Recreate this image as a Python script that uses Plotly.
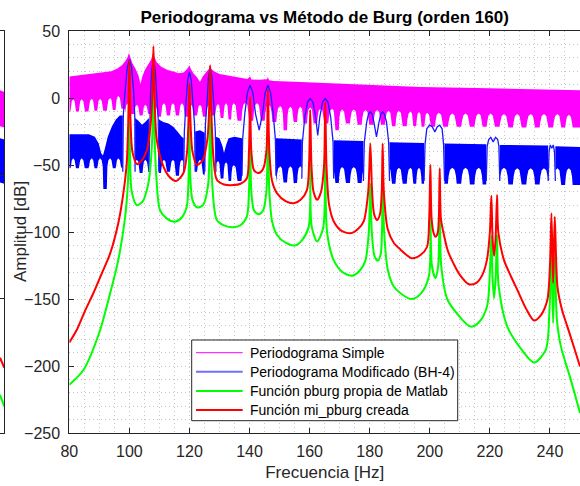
import numpy as np
import plotly.graph_objects as go

# ---------------- data ----------------
# Periodograma simple (magenta): upper envelope
mag_up_f = [80, 85, 90, 94, 96, 97.5, 98.6, 99.4, 99.85, 100.3, 101, 102, 103, 103.7, 104.3, 105.2, 106.3, 107.2, 107.8, 108.3,
            109, 110.5, 112.5, 114.5, 116.5, 118, 119, 119.6, 120, 120.5, 121.3, 122.5, 123.5, 124.4, 125.5, 126.4, 126.9, 127.5, 128.5, 130,
            134.7, 139.3, 139.9, 140.2, 140.6, 143, 145.8, 146.1, 146.5, 148, 155, 160, 170, 180, 197, 220, 250]
mag_up_db = [16, 17.5, 18.5, 20, 22, 24.5, 27.5, 30.5, 33.6, 30, 26, 22, 17, 10.5, 16, 21, 25, 28.5, 33, 31,
             27, 23.5, 21, 19.5, 18.5, 19, 21, 23, 24.4, 21.5, 18.5, 15.5, 12, 16, 19.5, 21.5, 23, 21, 19.5, 18,
             16, 14.2, 15.5, 16.2, 13.8, 13.6, 14, 15.7, 13.2, 12.7, 12.2, 11.8, 10.8, 10, 8.3, 7.2, 5.8]

# null pattern ("castles") on the lower edge of both periodograms
castle_f = [81.3, 84.1, 87.5, 90.2, 93.6, 96.3, 99.5, 102.5, 105.3, 108.5, 111.5, 114.5, 117.5, 120.5, 123.5, 126.5, 129.5, 132.2,
            134.7, 138.6, 142.5, 146.3, 150.2, 153.6, 156.9, 160.2, 163.6, 167.5, 170.8, 174.7, 178.6, 182.5, 186.3, 189.7, 193.6, 196.4,
            199.1, 203.0, 207.5, 211.9, 216.3, 220.2, 224.7, 229.1, 233.6, 238.0, 242.5, 246.3]
mag_castle_top = [-1, -1, -0.5, -0.5, 0, 1.5, -4, -5, -5, -6, -4, -4, -4, -5, -5, -5, -4.5, -4,
                  -4, -3.5, -4, -5, -6, -6.5, -6.5, -7, -8, -8, -8.5, -8.5, -9, -9, -9.5, -9.5, -10, -10.5,
                  -11, -11, -11.5, -11.5, -11.5, -11.5, -12, -12, -12, -12, -12, -12.5]
mag_castle_dip = [-10, -10, -9.5, -9.5, -9, -8, -12, -13, -12, -14, -13, -13, -14, -13, -14, -13, -15, -16,
                  -17, -17, -17, -18, -24, -18, -19, -19, -19, -24, -19, -20, -20, -20, -21, -21, -21, -21.5,
                  -21.5, -21.5, -21.5, -21.5, -21.5, -21.5, -22, -22, -22, -22, -22, -22]

# Periodograma modificado BH-4 (blue): noise-band upper edge
blue_up_f = [80, 86.5, 88.5, 89.8, 90.6, 91.2, 91.8, 92.8, 94.2, 95.5, 96.8, 97.8, 101.9, 103, 104.2, 105.3, 106.5, 109.8, 111.3, 113,
             114.6, 116, 117.4, 118.1, 121.9, 123.5, 125.1, 128.8, 130, 131, 131.5, 132.2, 133, 135, 137.5, 148.8, 152, 157.4, 168, 177.9,
             186.6, 198.1, 204.9, 218.8, 223.3, 239.4, 241.8, 250]
blue_up_db = [-27, -27, -29, -34, -41, -43, -38, -29, -21, -16, -13, -13, -15, -17, -20, -18, -15, -16, -18, -19,
              -21.5, -25, -29, -30, -25, -24, -26, -29, -30, -36, -41, -35, -30, -29, -30, -30, -30.5, -31, -31.5, -32,
              -33, -33.5, -34, -34.5, -35, -35.5, -36, -36.5]
blue_castle_top = [-45, -45, -45, -45, -45, -45, -46, -46, -46, -46, -46, -46, -46, -46, -46, -46, -47, -48,
                   -50, -51, -51, -51, -51, -51, -51, -51, -51, -51.5, -51.5, -51.5, -51.5, -52, -52, -52, -52, -52,
                   -52, -52, -52, -52, -52, -52, -52, -52.5, -52.5, -52.5, -52.5, -52.5]
blue_castle_dip = [-52.5, -52.5, -52.5, -68, -52.5, -52, -55, -56, -55, -56, -55, -58, -56, -55, -57, -56, -60, -62,
                   -62, -63, -62, -63, -63, -63.5, -63, -63.5, -63.5, -63.5, -63.5, -63.5, -64, -64, -64, -64, -64, -64,
                   -64, -64, -64, -64.5, -64.5, -64.5, -64.5, -64.5, -64.5, -65, -65, -65]
# frequency spans where the blue noise band exists (main lobes in between)
blue_band_spans = [(80, 97.8), (101.9, 106.5), (109.8, 118.1), (121.9, 125.1), (128.8, 137.5), (148.8, 157.4),
                   (168.0, 177.9), (186.6, 198.1), (204.9, 218.8), (223.3, 239.4), (241.8, 250)]
# blue main lobes
lobes_f = [
    [97.8, 98.0, 98.6, 99.3, 100.0, 100.7, 101.4, 101.8, 101.9],
    [106.5, 106.7, 107.0, 107.4, 108.0, 108.6, 109.1, 109.6, 109.8],
    [118.1, 118.3, 118.8, 119.4, 120.0, 120.6, 121.2, 121.7, 121.9],
    [125.1, 125.3, 125.8, 126.3, 126.9, 127.5, 128.1, 128.6, 128.8],
    [137.5, 137.7, 138.4, 139.3, 140.2, 141.1, 142.0, 143.2, 144.3, 145.2, 146.1, 147.0, 147.9, 148.6, 148.8],
    [157.4, 157.6, 158.4, 159.3, 160.2, 161.1, 162.0, 162.7, 163.4, 164.3, 165.2, 166.1, 167.0, 167.8, 168.0],
    [177.9, 178.2, 179.0, 179.6, 180.2, 180.8, 181.4, 182.25, 183.1, 183.7, 184.3, 184.9, 185.6, 186.3, 186.6],
    [198.1, 198.4, 199.0, 199.9, 200.8, 201.7, 202.5, 203.3, 204.1, 204.6, 204.9],
    [218.8, 219.1, 219.6, 220.3, 221.1, 221.9, 222.6, 223.0, 223.3],
    [239.4, 239.7, 240.1, 240.6, 241.1, 241.5, 241.8],
]
lobes_db = [
    [-55, -12, 6, 23, 28.7, 23, 6, -14, -55],
    [-55, -15, 0, 21, 28.4, 21, 0, -16, -55],
    [-55, -25, -5, 13, 19.5, 13, -5, -20, -55],
    [-55, -20, -5, 15, 23, 15, -5, -25, -55],
    [-58, -31, -12, 4, 9.5, 4, -12, -24, -12, 4, 9.5, 4, -12, -31, -58],
    [-60, -33, -14, -3, -0.4, -3, -14, -28, -14, -3, -0.4, -3, -14, -33, -60],
    [-62, -33, -18, -12, -10.3, -12, -18, -29, -18, -12, -10.3, -12, -18, -33, -62],
    [-62, -35, -23, -20.3, -21.5, -25.3, -21.5, -20.3, -23, -35, -62],
    [-62, -36, -31, -29.4, -32.7, -29.4, -31, -36, -62],
    [-62, -40, -35, -37.5, -35, -40, -62],
]

# Funcion pburg propia de Matlab (green)
green_f = [80, 84.7, 90, 93.6, 96.3, 98.6, 99.5, 99.8, 100, 100.2, 100.8, 102.5, 104.5, 106.2, 106.9, 107.6, 108, 108.4, 109, 110.2,
           112.5, 115.2, 117.5, 119.1, 119.7, 120, 120.3, 121, 122.5, 124.5, 126.2, 126.9, 127.6, 129.1, 131.5, 134.7, 137, 139.1, 139.8, 140.2,
           140.6, 141.5, 143, 144.5, 145.6, 146.1, 146.6, 147.5, 149.1, 152, 155.2, 157.5, 159.7, 160.2, 160.7, 162.5, 164.5, 165.2, 165.8, 168,
           171, 174.2, 177, 178.6, 179.7, 180.2, 180.7, 181.6, 182.7, 183.7, 184.3, 184.8, 186, 188, 191, 194.1, 197, 199.7, 200.2, 200.7,
           201.9, 202.8, 203.3, 203.8, 205.8, 209.1, 213.6, 216.5, 219.1, 220, 220.5, 220.9, 221.4, 221.9, 222.4, 222.9, 225.8, 230.2, 234.7, 238.6,
           239.8, 240.5, 241.05, 241.6, 242.3, 243.6, 246.9, 250]
green_db = [-214, -203, -175, -145.7, -121, -88.6, -63.7, -40, -2, -40, -70, -80, -77, -65, -54, -30, 8, -30, -60, -83.6,
            -90, -92.3, -89, -81, -60, -19, -60, -76, -81.6, -80, -65, -6, -65, -91, -95, -96.5, -95, -88.6, -70, -29,
            -70, -84, -86.8, -84, -70, -24, -70, -92, -102, -108, -110, -106, -96, -39, -96, -107, -97, -33, -100, -121,
            -130, -132.6, -128, -121, -100, -64, -100, -118, -121.4, -116, -64, -100, -128, -140.7, -147, -150, -146, -133, -80, -125,
            -134.5, -125, -82, -125, -150, -161, -170.6, -167, -155, -130, -103, -135, -149.4, -135, -102, -140, -170.6, -186.7, -197.4, -188,
            -160, -116, -168, -118, -165, -185, -210, -235]

# Funcion mi_pburg creada (red)
red_f = [80, 82.5, 85.2, 88, 90.8, 93.6, 96.3, 98, 99.1, 99.6, 100, 100.4, 101, 102.5, 104, 105.8, 107.1, 107.6, 108, 108.4,
         109.1, 111.3, 113, 115.5, 118, 119.2, 119.7, 120, 120.3, 121, 122.5, 124.5, 126, 126.6, 126.9, 127.2, 128, 129.1, 131.5, 134.7,
         137, 139.1, 139.8, 140.2, 140.6, 141.5, 143, 144.5, 145.6, 146.1, 146.6, 147.5, 149.1, 152, 154.7, 157, 159.1, 159.8, 160.2, 160.6,
         161.3, 162.5, 163.8, 164.8, 165.2, 165.6, 166.5, 168, 170.5, 173.6, 176, 178, 179.5, 180.2, 180.8, 181.5, 182.5, 183.4, 184, 184.3,
         184.7, 186, 188, 190.2, 194, 197, 199.1, 199.8, 200.2, 200.6, 201.3, 201.9, 202.6, 203, 203.3, 203.7, 204.5, 206, 208, 210,
         213, 215.5, 217.5, 219, 220, 220.5, 220.9, 221.4, 221.9, 222.4, 222.8, 224.7, 227, 229.1, 232, 234.7, 237, 239.1, 240, 240.5,
         241.05, 241.6, 242.5, 244, 245.8, 248, 250]
red_db = [-182.5, -173, -159, -145.7, -131, -116, -93.5, -71, -49, -20, 28, -18, -40, -49.3, -47, -39, -19, 0, 38.6, 0,
          -31, -51, -58, -62, -56, -40, -15, 10.8, -15, -40, -50, -46, -30, -5, 24.4, -5, -45, -61, -64.5, -65,
          -64, -60, -40, 0.8, -40, -54, -56, -53, -40, 6.3, -40, -62, -71, -77, -78.6, -76, -68.7, -50, -9, -50,
          -70, -76, -70, -50, -3, -50, -80, -92, -99, -101, -98, -92, -70, -34, -70, -87, -91, -87, -70, -34,
          -70, -98, -108, -113, -119.6, -117, -111, -90, -50, -90, -101, -103.5, -101, -90, -52.5, -90, -100, -114, -124, -132,
          -139, -138, -132, -121, -100, -73, -105, -118, -105, -72.4, -100, -121, -133, -143, -157, -166, -162, -151, -125, -86,
          -138, -88.6, -141, -158, -170.6, -186, -200.4]

# tail of the neighbouring (left) subplot visible at the image edge
strip_x = [0, 1]
strip_mag_top = [5.8, 4.5]
strip_mag_bot = [-21, -22]
strip_blue_top = [-30, -31]
strip_blue_bot = [-63, -64]
strip_red = [-193.8, -201.3]
strip_green = [-221.5, -230.2]

x_ticks = [80, 100, 120, 140, 160, 180, 200, 220, 240]
y_ticks = [-250, -200, -150, -100, -50, 0, 50]

legend_names = ["Periodograma Simple", "Periodograma Modificado (BH-4)",
                "Función pburg propia de Matlab", "Función mi_pburg creada"]

assert len(green_f) == len(green_db) and len(red_f) == len(red_db)
assert len(mag_up_f) == len(mag_up_db) and len(blue_up_f) == len(blue_up_db)

# ---------------- helpers ----------------
def castle_edge(centers, tops, dips, f0=80, f1=250):
    xs, ys = [f0], [dips[0]]
    n = len(centers)
    for i, c in enumerate(centers):
        s = (centers[i + 1] - c) if i < n - 1 else (c - centers[i - 1])
        sp = (c - centers[i - 1]) if i > 0 else s
        t = tops[i]
        if i == 0:
            xs.append(c - 0.33 * sp); ys.append(dips[0])
        xs += [c - 0.27 * sp, c - 0.17 * sp, c, c + 0.17 * s, c + 0.27 * s, c + 0.33 * s]
        ys += [t - 6, t - 1.5, t, t - 1.5, t - 6, dips[i]]
        if i < n - 1:
            xs.append(centers[i + 1] - 0.33 * s)
            ys.append(dips[i])
    xs.append(f1)
    ys.append(dips[-1])
    return np.array(xs), np.array(ys)


def band_polys(fu, vu, fl, vl, spans):
    fu, vu, fl, vl = map(np.asarray, (fu, vu, fl, vl))
    X, Y = [], []
    for lo, hi in spans:
        mu = (fu > lo) & (fu < hi)
        ml = (fl > lo) & (fl < hi)
        xu = [lo] + list(fu[mu]) + [hi]
        yu = [np.interp(lo, fu, vu)] + list(vu[mu]) + [np.interp(hi, fu, vu)]
        xl = [lo] + list(fl[ml]) + [hi]
        yl = [np.interp(lo, fl, vl)] + list(vl[ml]) + [np.interp(hi, fl, vl)]
        X += xu + xl[::-1] + [xu[0], None]
        Y += yu + yl[::-1] + [yu[0], None]
    return X, Y


MAG = "#ff00ff"
BLUE = "#0000ff"
GREEN = "#00ff00"
RED = "#ff0000"
AX = "#262626"
FONT = "Liberation Sans, Arial, sans-serif"

fig = go.Figure()

# magenta band
ml_f, ml_v = castle_edge(castle_f, mag_castle_top, mag_castle_dip)
mx, my = band_polys(mag_up_f, mag_up_db, ml_f, ml_v, [(80, 250)])
fig.add_trace(go.Scatter(x=mx, y=my, fill="toself", fillcolor=MAG, mode="lines", name=legend_names[0],
                         line=dict(width=0, color=MAG), showlegend=False, hoverinfo="skip"))

# blue band + main lobes
bl_f, bl_v = castle_edge(castle_f, blue_castle_top, blue_castle_dip)
bx, by = band_polys(blue_up_f, blue_up_db, bl_f, bl_v, blue_band_spans)
fig.add_trace(go.Scatter(x=bx, y=by, fill="toself", fillcolor=BLUE, mode="lines", name=legend_names[1],
                         line=dict(width=0, color=BLUE), showlegend=False, hoverinfo="skip"))
lx, ly = [], []
for fs, vs in zip(lobes_f, lobes_db):
    lx += fs + [None]
    ly += vs + [None]
fig.add_trace(go.Scatter(x=lx, y=ly, mode="lines", line=dict(color="#1a1aff", width=1.3),
                         showlegend=False, hoverinfo="skip"))

# Burg spectra
fig.add_trace(go.Scatter(x=green_f, y=green_db, mode="lines", name=legend_names[2],
                         line=dict(color=GREEN, width=2, shape="spline", smoothing=0.8), showlegend=False))
fig.add_trace(go.Scatter(x=red_f, y=red_db, mode="lines", name=legend_names[3],
                         line=dict(color=RED, width=2, shape="spline", smoothing=0.8), showlegend=False))

# left neighbouring subplot tail
fig.add_trace(go.Scatter(x=strip_x + strip_x[::-1], y=strip_mag_top + strip_mag_bot[::-1], fill="toself",
                         fillcolor=MAG, line=dict(width=0), mode="lines", xaxis="x2", yaxis="y2",
                         showlegend=False, hoverinfo="skip"))
fig.add_trace(go.Scatter(x=strip_x + strip_x[::-1], y=strip_blue_top + strip_blue_bot[::-1], fill="toself",
                         fillcolor=BLUE, line=dict(width=0), mode="lines", xaxis="x2", yaxis="y2",
                         showlegend=False, hoverinfo="skip"))
fig.add_trace(go.Scatter(x=strip_x, y=strip_red, mode="lines", line=dict(color=RED, width=2),
                         xaxis="x2", yaxis="y2", showlegend=False))
fig.add_trace(go.Scatter(x=strip_x, y=strip_green, mode="lines", line=dict(color=GREEN, width=2),
                         xaxis="x2", yaxis="y2", showlegend=False))

W, H = 580, 486
ML, MT, MB = 69.3, 31, 53
PH = H - MT - MB
grid = dict(showgrid=True, gridcolor="#c4c4c4", griddash="1px,3px", gridwidth=1)


def px(xp):
    return xp / W


def py(yp):
    return 1 - (yp - MT) / PH


# legend box (MATLAB style)
shapes = [dict(type="rect", xref="paper", yref="paper", x0=px(191.7), x1=px(457.7), y0=py(420.7), y1=py(340),
               line=dict(color=AX, width=1), fillcolor="white", layer="above")]
annotations = []
leg_colors = [MAG, "#7070ff", GREEN, RED]
leg_widths = [1, 2, 2, 2]
rows = [352.7, 371.7, 391.0, 410.0]
for name, col, lw, r in zip(legend_names, leg_colors, leg_widths, rows):
    shapes.append(dict(type="line", xref="paper", yref="paper", x0=px(196), x1=px(242.7), y0=py(r), y1=py(r),
                       line=dict(color=col, width=lw), layer="above"))
    annotations.append(dict(text=name, xref="paper", yref="paper", x=px(247.7), y=py(r), xanchor="left",
                            yanchor="middle", showarrow=False, font=dict(size=14, color="black", family=FONT)))

# y-axis title (placed like MATLAB's ylabel)
annotations.append(dict(text="Amplitud [dB]", xref="paper", yref="paper", x=px(20), y=py(232),
                        xanchor="center", yanchor="middle", textangle=-90, showarrow=False,
                        font=dict(size=17, color=AX, family=FONT)))

fig.update_layout(
    width=W, height=H,
    margin=dict(l=0, r=0, t=MT, b=MB),
    paper_bgcolor="white", plot_bgcolor="white",
    font=dict(family=FONT, color=AX),
    title=dict(text="<b>Periodograma vs Método de Burg (orden 160)</b>", font=dict(size=17, color="black"),
               x=(ML + W) / 2 / W, xanchor="center", xref="paper", y=1 - 17 / H, yanchor="middle", yref="container"),
    xaxis=dict(domain=[ML / W, 1], range=[80, 250], tickvals=x_ticks, ticks="inside", ticklen=5,
               tickcolor=AX, showline=True, linecolor=AX, linewidth=1, mirror="ticks", zeroline=False,
               tickfont=dict(size=16, color=AX), ticklabelstandoff=4,
               title=dict(text="Frecuencia [Hz]", font=dict(size=17, color=AX), standoff=6),
               minor=dict(dtick=5, tick0=80, ticks="", **grid), automargin=False, **grid),
    yaxis=dict(range=[-250, 50], tickvals=y_ticks, ticks="inside", ticklen=5, tickcolor=AX,
               showline=True, linecolor=AX, linewidth=1, mirror=False, zeroline=False,
               tickfont=dict(size=16, color=AX), ticklabelstandoff=5,
               minor=dict(dtick=10, tick0=-250, ticks="", **grid), automargin=False, **grid),
    xaxis2=dict(domain=[0, 4.3 / W], range=[0, 1], anchor="y2", showline=True, linecolor=AX, mirror=True,
                showgrid=False, zeroline=False, showticklabels=False, ticks=""),
    yaxis2=dict(domain=[0, 1], range=[-250, 50], anchor="x2", side="right", showline=True, linecolor=AX,
                ticks="inside", ticklen=4, tickcolor=AX, tickvals=[-57.6, -149.3], showticklabels=False,
                showgrid=False, zeroline=False),
    shapes=shapes,
    annotations=annotations,
    showlegend=False,
)

fig.write_html("out.html")
